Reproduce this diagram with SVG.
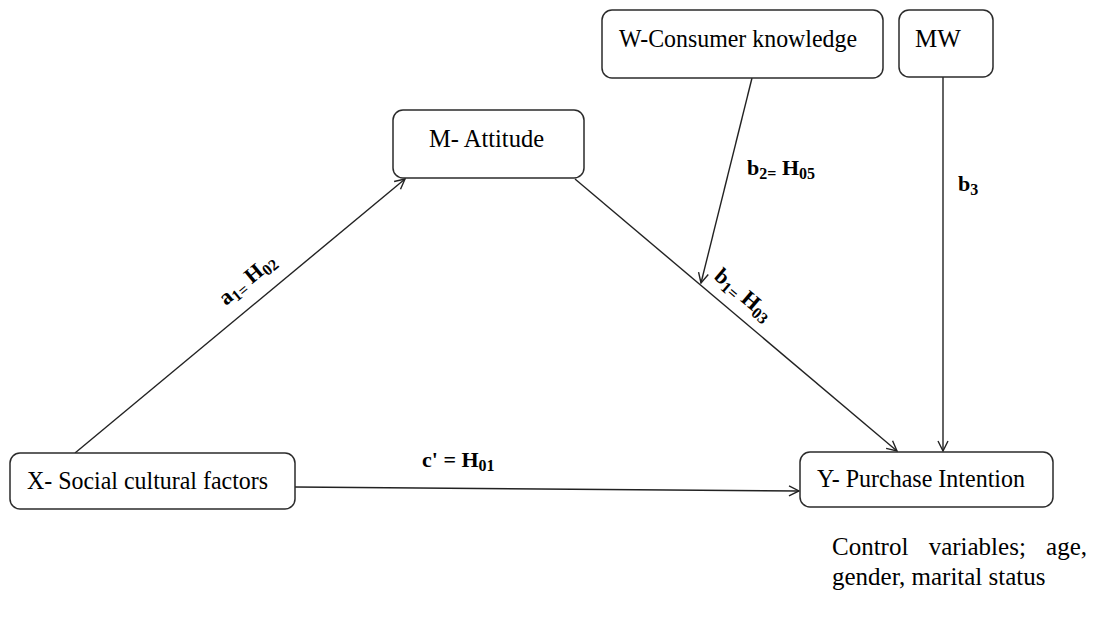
<svg xmlns="http://www.w3.org/2000/svg" width="1109" height="619" viewBox="0 0 1109 619">
  <style>
    .box { fill: #ffffff; stroke: #2b2b2b; stroke-width: 1.5; }
    .lbl { font-family: "Liberation Serif", "Times New Roman", serif; font-size: 25px; fill: #000; }
    .path-lbl { font-family: "Liberation Serif", "Times New Roman", serif; font-size: 22px; font-weight: bold; fill: #000; }
    .sub { font-size: 16px; }
    .edge { stroke: #222; stroke-width: 1.4; fill: none; marker-end: url(#arrow); }
    .note { font-family: "Liberation Serif", "Times New Roman", serif; font-size: 25px; fill: #000; }
  </style>
  <defs>
    <marker id="arrow" viewBox="0 0 12 12" refX="11" refY="6" markerWidth="12" markerHeight="12" markerUnits="userSpaceOnUse" orient="auto">
      <path d="M1,1 L11,6 L1,11" fill="none" stroke="#222" stroke-width="1.4"/>
    </marker>
  </defs>

  <rect width="1109" height="619" fill="#ffffff"/>

  <!-- connectors -->
  <g id="connectors">
    <line class="edge" x1="75" y1="453" x2="405" y2="179"/>
    <line class="edge" x1="575" y1="179" x2="897" y2="451"/>
    <line class="edge" x1="752" y1="78" x2="701" y2="283"/>
    <line class="edge" x1="943" y1="77" x2="943" y2="451"/>
    <line class="edge" x1="295" y1="487" x2="799" y2="491"/>
  </g>

  <!-- path labels -->
  <g id="path-labels">
    <text class="path-lbl" transform="translate(226,306) rotate(-39.8)">a<tspan class="sub" dy="4">1=</tspan><tspan dy="-4"> H</tspan><tspan class="sub" dy="4">02</tspan></text>
    <text class="path-lbl" transform="translate(713,278) rotate(40.2)">b<tspan class="sub" dy="4">1=</tspan><tspan dy="-4"> H</tspan><tspan class="sub" dy="4">03</tspan></text>
    <text class="path-lbl" x="747" y="175">b<tspan class="sub" dy="4">2=</tspan><tspan dy="-4"> H</tspan><tspan class="sub" dy="4">05</tspan></text>
    <text class="path-lbl" x="958" y="191">b<tspan class="sub" dy="4">3</tspan></text>
    <text class="path-lbl" x="422" y="467">c' = H<tspan class="sub" dy="4">01</tspan></text>
  </g>

  <!-- nodes -->
  <g id="node-w">
    <rect class="box" x="602" y="10" width="281" height="68" rx="10"/>
    <text class="lbl" x="619" y="47" textLength="238" lengthAdjust="spacingAndGlyphs">W-Consumer knowledge</text>
  </g>
  <g id="node-mw">
    <rect class="box" x="899" y="10" width="94" height="67" rx="10"/>
    <text class="lbl" x="915" y="47">MW</text>
  </g>
  <g id="node-m">
    <rect class="box" x="393" y="110" width="191" height="68" rx="10"/>
    <text class="lbl" x="429" y="147" textLength="115" lengthAdjust="spacingAndGlyphs">M- Attitude</text>
  </g>
  <g id="node-x">
    <rect class="box" x="10" y="453" width="285" height="56" rx="10"/>
    <text class="lbl" x="27" y="489" textLength="241" lengthAdjust="spacingAndGlyphs">X- Social cultural factors</text>
  </g>
  <g id="node-y">
    <rect class="box" x="800" y="452" width="253" height="55" rx="10"/>
    <text class="lbl" x="817" y="487" textLength="208" lengthAdjust="spacingAndGlyphs">Y- Purchase Intention</text>
  </g>

  <!-- note -->
  <g id="note">
    <text class="note" x="832" y="555" word-spacing="14">Control variables; age,</text>
    <text class="note" x="832" y="585">gender, marital status</text>
  </g>
</svg>
